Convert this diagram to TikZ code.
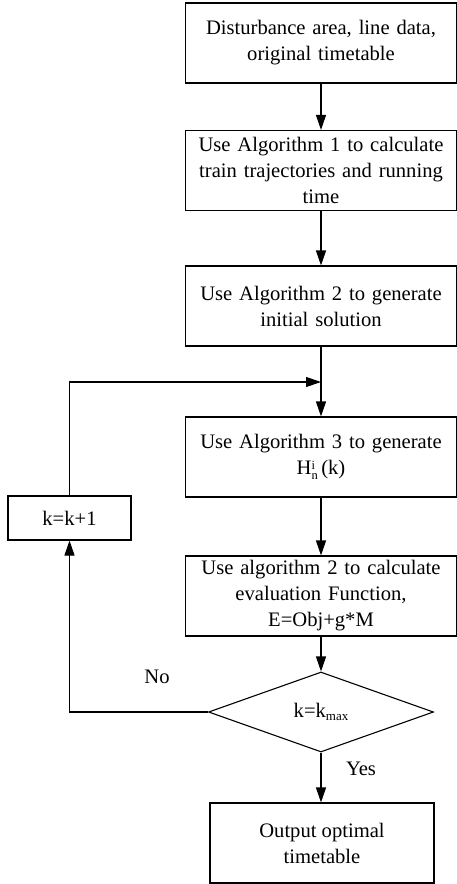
\documentclass[tikz,border=0pt]{standalone}
\usepackage{fontspec}
\setmainfont{Liberation Serif}
\usetikzlibrary{arrows.meta,shapes.geometric}
\begin{document}
\begin{tikzpicture}[x=1pt,y=-1pt,
  every node/.style={font=\fontsize{20.6}{26}\selectfont},
  proc/.style={draw,line width=1.1pt,rectangle,minimum width=271pt,minimum height=80pt,align=center,inner sep=0pt,text width=266pt},
  outbox/.style={draw,line width=1.1pt,rectangle,minimum width=224pt,minimum height=80pt,align=center,inner sep=0pt},
  kbox/.style={draw,line width=1.1pt,rectangle,minimum width=123pt,minimum height=44pt,align=center,inner sep=0pt},
  dec/.style={draw,line width=1.1pt,diamond,minimum width=225pt,minimum height=80pt,aspect=2.8125,inner sep=0pt},
  conn/.style={line width=1.1pt,-{Triangle[length=15pt,width=10pt]}},
  plain/.style={line width=1.1pt}]
\useasboundingbox (0,0) rectangle (457,884);
\node[proc] (b1) at (321,43) {Disturbance area, line data,\\original timetable};
\node[proc] (b2) at (321,170.5) {Use Algorithm 1 to calculate\\train trajectories and running\\time};
\node[proc] (b3) at (321,306) {Use Algorithm 2 to generate\\initial solution};
\node[proc] (b4) at (321,457) {Use Algorithm 3 to generate\\H\rlap{\raisebox{0.6ex}{\fontsize{12.5}{12.5}\selectfont i}}\raisebox{-0.45ex}{\fontsize{12.5}{12.5}\selectfont n}\,(k)};
\node[proc] (b5) at (321,596) {Use algorithm 2 to calculate\\evaluation Function,\\E=Obj+g*M};
\node[dec] (d) at (321,712) {k=k\raisebox{-0.35ex}{\fontsize{13}{13}\selectfont max}};
\node[outbox] (o) at (322,843) {Output optimal\\timetable};
\node[kbox] (k) at (69.5,518) {k=k+1};
\coordinate (join) at (321,382);
\node (no) at (157,677) {No};
\node (yes) at (361,769) {Yes};
\draw[conn] (b1) -- (b2);
\draw[conn] (b2) -- (b3);
\draw[plain] (b3) -- (join);
\draw[conn] (join) -- (b4);
\draw[conn] (b4) -- (b5);
\draw[conn] (b5) -- (d);
\draw[conn] (d) -- (d |- o.north);
\draw[conn] (d.west) -| (k.south);
\draw[conn] (k.north) |- (join);
\end{tikzpicture}
\end{document}
